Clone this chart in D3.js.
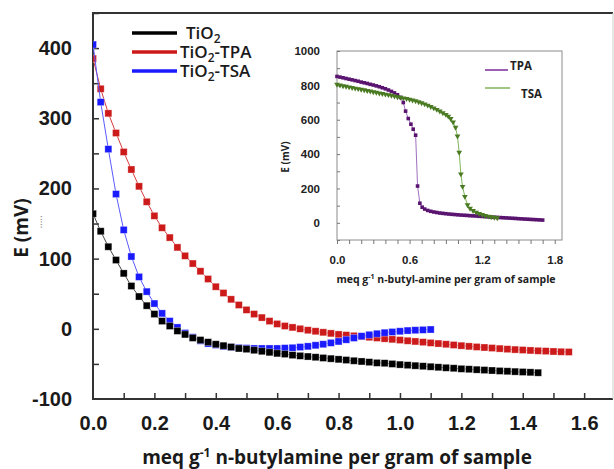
<!DOCTYPE html>
<html>
<head>
<meta charset="utf-8">
<script src="https://cdn.jsdelivr.net/npm/d3@7"></script>
<style>
    body { margin: 0; background: #fff; }
    svg { display: block; font-family: "Open Sans", sans-serif; }
</style>
</head>
<body>
<div id="chart"></div>
<script>
// main plot: amount of n-butylamine added (meq/g), shared by the three samples
var dose = [0, 0.025, 0.05, 0.075, 0.1, 0.125, 0.15, 0.175, 0.2, 0.225, 0.25, 0.275, 0.3, 0.325, 0.35, 0.375,
    0.4, 0.425, 0.45, 0.475, 0.5, 0.525, 0.55, 0.575, 0.6, 0.625, 0.65, 0.675, 0.7, 0.725, 0.75, 0.775,
    0.8, 0.825, 0.85, 0.875, 0.9, 0.925, 0.95, 0.975, 1.0, 1.025, 1.05, 1.075, 1.1, 1.125, 1.15, 1.175,
    1.2, 1.225, 1.25, 1.275, 1.3, 1.325, 1.35, 1.375, 1.4, 1.425, 1.45, 1.475, 1.5, 1.525, 1.55];

// potential E (mV)
var tio2E = [164, 139, 117, 98, 79, 61, 46, 33, 21, 11, 4, -3, -8, -13, -16, -19,
    -22, -24, -26, -28, -29, -30.5, -32, -33.5, -35, -36, -37.5, -38.5, -39.5, -40.5, -41.5, -42.5,
    -43.5, -44.5, -45.5, -46.5, -47.5, -48.5, -49, -50, -51, -51.8, -52.5, -53.3, -54, -54.8, -55.5, -56.2,
    -57, -57.6, -58.2, -58.8, -59.4, -60, -60.5, -61, -61.5, -62, -62.5];
var tpaE = [385, 342, 307, 279, 252, 227, 203, 181, 161, 144, 130, 116, 104, 93, 82, 71,
    60, 51, 42, 34, 27, 21, 16, 11, 7, 4, 2, 0, -2, -3.5, -5, -6.5,
    -8, -9, -10, -11, -12, -13, -14, -15, -16, -17, -18, -19, -20, -21, -22, -23,
    -24, -25, -25.8, -26.6, -27.4, -28.2, -29, -29.6, -30.2, -30.8, -31.3, -31.8, -32.3, -32.7, -33];
var tsaE = [405, 323, 256, 192, 141, 103, 74, 53, 36, 22, 11, 2, -6, -12, -17, -21,
    -23, -25, -26, -27, -27.5, -28, -28, -28, -28, -27.5, -27, -26, -25, -23.5, -22, -20,
    -18, -15.5, -13, -10.5, -8.5, -7, -5.5, -4.5, -3.5, -2.5, -2, -1.5, -1];

var seriesNames = ["TiO2", "TiO2-TPA", "TiO2-TSA"];
var seriesColors = ["#000000", "#cc1a1a", "#1a1aff"];
var lineColors = ["#444444", "#d63a3a", "#5a5aff"];

var mainXTicks = [0, 0.2, 0.4, 0.6, 0.8, 1.0, 1.2, 1.4, 1.6];
var mainYTicks = [-100, 0, 100, 200, 300, 400];

// inset: TPA and TSA titrations
var insetTpaX = [0, 0.025, 0.05, 0.075, 0.1, 0.125, 0.15, 0.175, 0.2, 0.225, 0.25, 0.275, 0.3, 0.325, 0.35, 0.375,
    0.4, 0.425, 0.45, 0.475, 0.5, 0.525,
    0.548, 0.567, 0.589, 0.611, 0.63, 0.65, 0.666, 0.685, 0.704,
    0.725, 0.75, 0.775, 0.8, 0.825, 0.85, 0.875, 0.9, 0.925, 0.95, 0.975, 1.0, 1.025, 1.05, 1.075, 1.1,
    1.125, 1.15, 1.175, 1.2, 1.225, 1.25, 1.275, 1.3, 1.325, 1.35, 1.375, 1.4, 1.425, 1.45, 1.475, 1.5,
    1.525, 1.55, 1.575, 1.6, 1.625, 1.65, 1.675, 1.7];
var insetTpaE = [852, 848, 844, 840, 836, 832, 828, 824, 819, 815, 811, 806, 802, 797, 792, 786,
    780, 773, 765, 756, 745, 730,
    700, 650, 607, 574, 545, 510, 214, 114, 91,
    80, 72, 67, 63, 60, 57, 55, 53, 51, 49.5, 48, 46.5, 45, 44, 43, 41.5,
    40.5, 39.5, 38, 37, 36, 35, 33.5, 32.5, 31.5, 30.5, 29.5, 28.5, 27.5, 26.5, 25.5, 24,
    23, 22, 21, 20, 19, 18, 17, 16];
var insetTsaX = [0, 0.025, 0.05, 0.075, 0.1, 0.125, 0.15, 0.175, 0.2, 0.225, 0.25, 0.275, 0.3, 0.325, 0.35, 0.375,
    0.4, 0.425, 0.45, 0.475, 0.5, 0.525, 0.55, 0.575, 0.6, 0.625, 0.65, 0.675, 0.7, 0.725, 0.75, 0.775,
    0.8, 0.825, 0.85, 0.875, 0.9,
    0.92, 0.94, 0.96, 0.98, 0.996, 1.01, 1.024, 1.038, 1.057, 1.079, 1.1, 1.125, 1.15, 1.175, 1.2, 1.225,
    1.25, 1.275, 1.3, 1.325];
var insetTsaE = [805, 801, 797, 794, 790, 787, 783, 780, 776, 773, 769, 766, 762, 759, 755, 752,
    748, 745, 741, 737, 733, 730, 726, 722, 718, 714, 709, 704, 698, 691, 684, 676,
    668, 659, 650, 640, 630,
    620, 606, 586, 555, 504, 410, 284, 211, 153, 104, 84, 71, 61, 53, 47, 42,
    38, 34, 31, 28];
var insetXTicks = [0, 0.6, 1.2, 1.8];
var insetYTicks = [0, 200, 400, 600, 800, 1000];

var width = 614, height = 469;

var svg = d3.select("#chart")
    .append("svg")
    .attr("width", width)
    .attr("height", height);

svg.append("rect").attr("width", width).attr("height", height).attr("fill", "#fff");

// plain labels with an ascii minus
var plainInt = d => String(d);

// ---------- main plot ----------
var x = d3.scaleLinear().domain([0, 1.694]).range([93, 613]);
var y = d3.scaleLinear().domain([-100, 450]).range([399, 13]);

svg.append("clipPath")
    .attr("id", "mainClip")
    .append("rect")
    .attr("x", x(0)).attr("y", y(450))
    .attr("width", x(1.694) - x(0)).attr("height", y(-100) - y(450));

// tick marks (inward)
svg.append("g")
    .attr("transform", `translate(0, ${y(-100)})`)
    .call(d3.axisBottom(x).tickValues(d3.range(0.1, 1.65, 0.1)).tickSize(-6).tickFormat(""))
    .call(g => g.select(".domain").remove())
    .call(g => g.selectAll("line").attr("stroke", "#333").attr("stroke-width", 1.5));

svg.append("g")
    .attr("transform", `translate(${x(0)}, 0)`)
    .call(d3.axisLeft(y).tickValues(d3.range(-50, 451, 50)).tickSize(-6).tickFormat(""))
    .call(g => g.select(".domain").remove())
    .call(g => g.selectAll("line").attr("stroke", "#333").attr("stroke-width", 1.5));

// tick labels
svg.append("g")
    .attr("transform", `translate(0, ${y(-100)})`)
    .call(d3.axisBottom(x).tickValues(mainXTicks).tickSize(0).tickPadding(17).tickFormat(d3.format(".1f")))
    .call(g => g.select(".domain").remove())
    .selectAll("text")
    .attr("fill", "#1a1a1a")
    .style("font-size", "20px")
    .style("font-weight", "bold");

svg.append("g")
    .attr("transform", `translate(${x(0)}, 0)`)
    .call(d3.axisLeft(y).tickValues(mainYTicks).tickSize(0).tickPadding(21).tickFormat(plainInt))
    .call(g => g.select(".domain").remove())
    .selectAll("text")
    .attr("fill", "#1a1a1a")
    .style("font-size", "20px")
    .style("font-weight", "bold");

// frame
svg.append("line").attr("x1", x(0)).attr("x2", x(1.694)).attr("y1", y(450)).attr("y2", y(450))
    .attr("stroke", "#333").attr("stroke-width", 2);
svg.append("line").attr("x1", x(0)).attr("x2", x(1.694)).attr("y1", y(-100)).attr("y2", y(-100))
    .attr("stroke", "#333").attr("stroke-width", 2);
svg.append("line").attr("x1", x(0)).attr("x2", x(0)).attr("y1", y(450) - 1).attr("y2", y(-100) + 1)
    .attr("stroke", "#333").attr("stroke-width", 2);
svg.append("line").attr("x1", x(1.694)).attr("x2", x(1.694)).attr("y1", y(450)).attr("y2", y(-100))
    .attr("stroke", "#cfcfcf").attr("stroke-width", 1);

// series: red first, blue, then black on top
var mainSeries = [
    { name: seriesNames[1], values: tpaE, color: seriesColors[1], line: lineColors[1] },
    { name: seriesNames[2], values: tsaE, color: seriesColors[2], line: lineColors[2] },
    { name: seriesNames[0], values: tio2E, color: seriesColors[0], line: lineColors[0] }
];

var plot = svg.append("g").attr("clip-path", "url(#mainClip)");

var mainLine = d3.line()
    .x(d => x(d[0]))
    .y(d => y(d[1]));

mainSeries.forEach(function (s) {
    var pts = s.values.map((v, i) => [dose[i], v]);
    var g = plot.append("g");
    g.append("path")
        .datum(pts)
        .attr("fill", "none")
        .attr("stroke", s.line)
        .attr("stroke-width", 1)
        .attr("d", mainLine);
    g.selectAll("rect")
        .data(pts)
        .enter().append("rect")
        .attr("x", d => x(d[0]) - 3.5)
        .attr("y", d => y(d[1]) - 3.5)
        .attr("width", 7)
        .attr("height", 7)
        .attr("fill", s.color)
        .attr("stroke", "#fff")
        .attr("stroke-opacity", 0.45)
        .attr("stroke-width", 0.7);
});

// legend
var legendY = [33, 52, 71];
var legendX = [186, 180, 180];
var legend = svg.append("g");
[0, 1, 2].forEach(function (i) {
    legend.append("line")
        .attr("x1", 132).attr("x2", 177)
        .attr("y1", legendY[i]).attr("y2", legendY[i])
        .attr("stroke", seriesColors[i])
        .attr("stroke-width", 3.5);
    var t = legend.append("text")
        .attr("x", legendX[i])
        .attr("y", legendY[i] + 6)
        .attr("fill", "#1a1a1a")
        .style("font-size", "17px")
        .style("font-weight", 600);
    var parts = seriesNames[i].split("2");
    t.append("tspan").text(parts[0]);
    t.append("tspan").attr("dy", 4).style("font-size", "12px").text("2");
    t.append("tspan").attr("dy", -4).text(parts[1]);
});

// axis titles
var xTitle = svg.append("text")
    .attr("x", 337)
    .attr("y", 464)
    .attr("text-anchor", "middle")
    .attr("fill", "#1a1a1a")
    .style("font-size", "19px")
    .style("font-weight", "bold");
xTitle.append("tspan").text("meq g");
xTitle.append("tspan").attr("dy", -7).style("font-size", "12px").text("-1");
xTitle.append("tspan").attr("dy", 7).text(" n-butylamine per gram of sample");

svg.append("text")
    .attr("transform", "translate(28, 228) rotate(-90)")
    .attr("text-anchor", "middle")
    .attr("fill", "#1a1a1a")
    .style("font-size", "19px")
    .style("font-weight", "bold")
    .text("E (mV)");

svg.append("text")
    .attr("transform", "translate(42, 222) rotate(-90)")
    .attr("text-anchor", "middle")
    .attr("fill", "#888")
    .style("font-size", "10px")
    .text(".....");

// ---------- inset ----------
var ix = d3.scaleLinear().domain([0, 1.86]).range([337, 562]);
var iy = d3.scaleLinear().domain([-100, 1000]).range([240, 51]);

svg.append("rect")
    .attr("x", ix(0)).attr("y", iy(1000))
    .attr("width", ix(1.86) - ix(0)).attr("height", iy(-100) - iy(1000))
    .attr("fill", "#fff")
    .attr("stroke", "#8c8c8c")
    .attr("stroke-width", 1);

svg.append("g")
    .attr("transform", `translate(0, ${iy(-100)})`)
    .call(d3.axisBottom(ix).tickValues(d3.range(0, 1.85, 0.1)).tickSize(4).tickFormat(""))
    .call(g => g.select(".domain").remove())
    .call(g => g.selectAll("line").attr("stroke", "#777"));

svg.append("g")
    .attr("transform", `translate(${ix(0)}, 0)`)
    .call(d3.axisLeft(iy).tickValues(d3.range(-100, 1001, 100)).tickSize(-3).tickFormat(""))
    .call(g => g.select(".domain").remove())
    .call(g => g.selectAll("line").attr("stroke", "#777"));

svg.append("g")
    .attr("transform", `translate(0, ${iy(-100)})`)
    .call(d3.axisBottom(ix).tickValues(insetXTicks).tickSize(0).tickPadding(16).tickFormat(d3.format(".1f")))
    .call(g => g.select(".domain").remove())
    .selectAll("text")
    .attr("fill", "#222")
    .style("font-size", "11.5px")
    .style("font-weight", "bold");

svg.append("g")
    .attr("transform", `translate(${ix(0)}, 0)`)
    .call(d3.axisLeft(iy).tickValues(insetYTicks).tickSize(0).tickPadding(17).tickFormat(plainInt))
    .call(g => g.select(".domain").remove())
    .selectAll("text")
    .attr("fill", "#222")
    .style("font-size", "11.5px")
    .style("font-weight", "bold");

var insetLine = d3.line()
    .x(d => ix(d[0]))
    .y(d => iy(d[1]));

var tpaPts = insetTpaX.map((v, i) => [v, insetTpaE[i]]);
var tsaPts = insetTsaX.map((v, i) => [v, insetTsaE[i]]);

svg.append("path")
    .datum(tpaPts)
    .attr("fill", "none")
    .attr("stroke", "#a070c0")
    .attr("stroke-width", 1)
    .attr("d", insetLine);
svg.append("g").selectAll("rect")
    .data(tpaPts)
    .enter().append("rect")
    .attr("x", d => ix(d[0]) - 1.8)
    .attr("y", d => iy(d[1]) - 1.8)
    .attr("width", 3.6)
    .attr("height", 3.6)
    .attr("fill", "#5a1470");

svg.append("path")
    .datum(tsaPts)
    .attr("fill", "none")
    .attr("stroke", "#7fb55a")
    .attr("stroke-width", 1)
    .attr("d", insetLine);
svg.append("g").selectAll("path")
    .data(tsaPts)
    .enter().append("path")
    .attr("d", d3.symbol().type(d3.symbolTriangle).size(14))
    .attr("transform", d => `translate(${ix(d[0])}, ${iy(d[1])}) rotate(180)`)
    .attr("fill", "#4a7a22");

// inset legend
svg.append("line").attr("x1", 485).attr("x2", 508).attr("y1", 70).attr("y2", 70)
    .attr("stroke", "#7a2a9a").attr("stroke-width", 1.5);
svg.append("text").attr("x", 510).attr("y", 70)
    .attr("fill", "#222").style("font-size", "11.5px").style("font-weight", "bold")
    .text("TPA");
svg.append("line").attr("x1", 485).attr("x2", 510).attr("y1", 88).attr("y2", 88)
    .attr("stroke", "#7fb55a").attr("stroke-width", 1.5);
svg.append("text").attr("x", 521).attr("y", 98)
    .attr("fill", "#222").style("font-size", "11.5px").style("font-weight", "bold")
    .text("TSA");

// inset axis titles
var ixTitle = svg.append("text")
    .attr("x", 446)
    .attr("y", 283)
    .attr("text-anchor", "middle")
    .attr("fill", "#222")
    .style("font-size", "10.5px")
    .style("font-weight", "bold");
ixTitle.append("tspan").text("meq g");
ixTitle.append("tspan").attr("dy", -4).style("font-size", "7px").text("-1");
ixTitle.append("tspan").attr("dy", 4).text(" n-butyl-amine per gram of sample");

svg.append("text")
    .attr("transform", "translate(289, 157) rotate(-90)")
    .attr("text-anchor", "middle")
    .attr("fill", "#222")
    .style("font-size", "10px")
    .style("font-weight", "bold")
    .text("E (mV)");
</script>
</body>
</html>
